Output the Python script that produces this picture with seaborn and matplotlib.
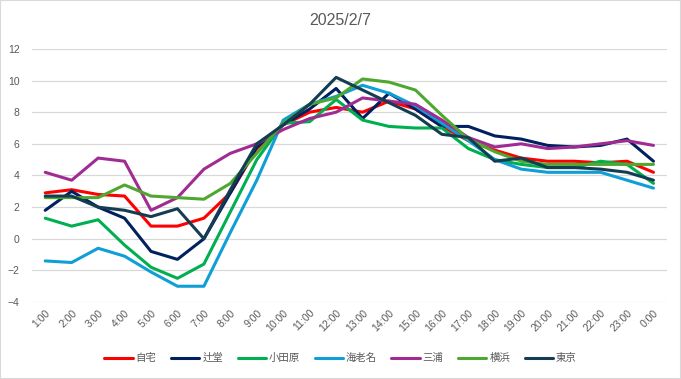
import pandas as pd
import numpy as np
import matplotlib
matplotlib.use("Agg")
import matplotlib.pyplot as plt
import seaborn as sns
from matplotlib.patches import Rectangle

# hourly values
hours = [f"{h}:00" for h in range(1, 24)] + ["0:00"]

jitaku = [2.9, 3.1, 2.8, 2.7, 0.8, 0.8, 1.3, 2.9, 5.7, 7.2, 8.0, 8.3,
          8.0, 8.7, 8.2, 7.1, 6.2, 5.6, 5.1, 4.9, 4.9, 4.8, 4.9, 4.2]
tsujido = [1.8, 3.0, 2.0, 1.3, -0.8, -1.3, 0.0, 2.9, 5.8, 7.2, 8.2, 9.5,
           7.6, 9.2, 8.2, 7.1, 7.1, 6.5, 6.3, 5.9, 5.8, 5.9, 6.3, 4.9]
odawara = [1.3, 0.8, 1.2, -0.4, -1.8, -2.5, -1.6, 1.7, 5.0, 7.3, 7.4, 8.8,
           7.5, 7.1, 7.0, 7.0, 5.7, 5.0, 4.7, 4.5, 4.5, 4.9, 4.7, 3.5]
ebina = [-1.4, -1.5, -0.6, -1.1, -2.1, -3.0, -3.0, 0.4, 3.7, 7.5, 8.5, 9.0,
         9.7, 9.2, 8.4, 7.3, 6.2, 5.0, 4.4, 4.2, 4.2, 4.2, 3.7, 3.2]
miura = [4.2, 3.7, 5.1, 4.9, 1.8, 2.6, 4.4, 5.4, 6.0, 6.9, 7.6, 8.0,
         8.9, 8.7, 8.5, 7.5, 6.4, 5.8, 6.0, 5.7, 5.8, 6.0, 6.2, 5.9]
yokohama = [2.6, 2.6, 2.6, 3.4, 2.7, 2.6, 2.5, 3.5, 5.4, 7.3, 8.5, 8.9,
            10.1, 9.9, 9.4, 7.8, 6.3, 5.5, 4.9, 4.7, 4.7, 4.7, 4.7, 4.7]
tokyo = [2.7, 2.7, 2.0, 1.8, 1.4, 1.9, 0.0, 3.1, 6.0, 7.2, 8.5, 10.2,
         9.4, 8.6, 7.8, 6.6, 6.4, 4.9, 5.1, 4.5, 4.5, 4.4, 4.2, 3.7]

names = ["自宅", "辻堂", "小田原", "海老名", "三浦", "横浜", "東京"]
series = [jitaku, tsujido, odawara, ebina, miura, yokohama, tokyo]
colors = ["#FF0000", "#002060", "#00B050", "#0F9ED5", "#A02B93", "#4EA72E", "#153D52"]

df = pd.concat([pd.DataFrame({"hour": hours, "value": v, "place": n})
                for n, v in zip(names, series)], ignore_index=True)

sns.set_style("white")
plt.rcParams["font.family"] = ["Liberation Sans", "Noto Sans CJK JP", "DejaVu Sans"]

fig = plt.figure(figsize=(6.81, 3.79), dpi=100)
ax = fig.add_axes([0.047, 0.203, 0.932, 0.668])

sns.lineplot(data=df, x="hour", y="value", hue="place", hue_order=names,
             palette=colors, sort=False, linewidth=2.2, ax=ax)

ax.set_xlim(-0.5, 23.5)
ax.set_ylim(-4, 12)
ax.set_yticks(np.arange(-4, 13, 2))
ax.grid(axis="y", color="#D9D9D9", linewidth=0.9)
ax.set_axisbelow(True)
for s in ax.spines.values():
    s.set_visible(False)
ax.set_xlabel("")
ax.set_ylabel("")
ax.tick_params(axis="both", length=0, labelsize=7.5, labelcolor="#595959")
ax.tick_params(axis="y", pad=9)
plt.setp(ax.get_xticklabels(), rotation=45, ha="right", rotation_mode="anchor")
ax.tick_params(axis="x", pad=4)

handles, labels = ax.get_legend_handles_labels()
ax.get_legend().remove()
fig.legend(handles, labels, loc="center", bbox_to_anchor=(0.5, 0.055), ncol=7,
           frameon=False, fontsize=7.5, handlelength=2.7, handletextpad=0.3,
           columnspacing=1.4, labelcolor="#595959")

fig.text(0.5, 0.945, "2025/2/7", ha="center", va="center", fontsize=11.5, color="#595959")
fig.patches.append(Rectangle((0, 0), 1, 1, transform=fig.transFigure, fill=False,
                             edgecolor="#D9D9D9", linewidth=1.5))

fig.savefig("out.png", dpi=100)
